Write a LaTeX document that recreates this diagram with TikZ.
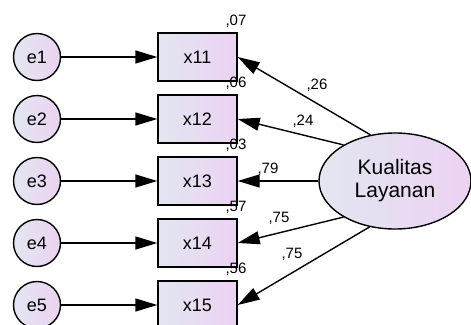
\documentclass[tikz,border=0pt]{standalone}
\usepackage{fontspec}
\setmainfont{Liberation Sans}
\usetikzlibrary{arrows.meta,shapes.geometric}
\definecolor{fillL}{RGB}{226,231,241}
\definecolor{fillR}{RGB}{236,210,242}
\begin{document}
\begin{tikzpicture}[x=1pt,y=-1pt,
  obs/.style={draw, line width=1.4pt, minimum width=79pt, minimum height=48pt,
    inner sep=0pt, left color=fillL, right color=fillR,
    font=\fontsize{18}{20}\selectfont},
  err/.style={circle, draw, line width=1.4pt, minimum size=47pt, inner sep=0pt,
    left color=fillL, right color=fillR, font=\fontsize{18}{20}\selectfont},
  lat/.style={ellipse, draw, line width=1.4pt, minimum width=152pt,
    minimum height=96pt, inner sep=0pt, left color=fillL, right color=fillR,
    align=center, font=\fontsize{21}{23}\selectfont},
  arr/.style={line width=1.4pt, -{Triangle[length=22pt,width=13pt]}},
  coef/.style={inner sep=0pt, font=\fontsize{15}{16}\selectfont}
]
\useasboundingbox (0,0) rectangle (471,324);

% latent factor
\node[lat] (lv) at (395,181) {Kualitas\\Layanan};

% indicators, error terms and squared multiple correlations
\foreach \i/\y/\r in {1/57/07, 2/119/06, 3/181/03, 4/243/57, 5/305/56}{
  \node[err] (e\i) at (37,\y) {e\i};
  \node[obs] (x\i) at (197.5,\y) {x1\i};
  \node[coef] (r\i) at (236,\y-36) {,\r};
  \draw[arr] (e\i) -- (x\i);
}

% factor loadings
\draw[arr] (lv.118) -- (x1.east);
\draw[arr] (lv.145) -- (x2.east);
\draw[arr] (lv.180) -- (x3.east);
\draw[arr] (lv.215) -- (x4.east);
\draw[arr] (lv.241) -- (x5.east);

\node[coef] (l1) at (317,85) {,26};
\node[coef] (l2) at (303,121) {,24};
\node[coef] (l3) at (268,169) {,79};
\node[coef] (l4) at (279,218) {,75};
\node[coef] (l5) at (292,254) {,75};
\end{tikzpicture}
\end{document}
